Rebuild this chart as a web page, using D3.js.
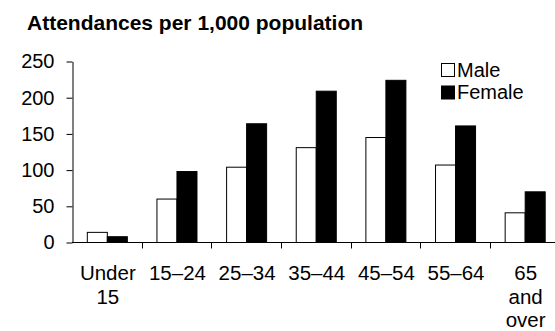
<!DOCTYPE html>
<html>
<head>
<meta charset="utf-8">
<script src="https://cdn.jsdelivr.net/npm/d3@7"></script>
<style>
  html, body { margin: 0; padding: 0; background: #fff; }
  svg { display: block; font-family: "Liberation Sans", Arial, sans-serif; }
</style>
</head>
<body>
<svg id="chart" width="555" height="331"></svg>
<script>
// Attendance rates by age group and sex
const categories = ["Under 15", "15–24", "25–34", "35–44", "45–54", "55–64", "65 and over"];
const categoryLines = [["Under", "15"], ["15–24"], ["25–34"], ["35–44"], ["45–54"], ["55–64"], ["65", "and", "over"]];
const male = [14, 60, 104, 131, 145, 107, 41];
const female = [8, 98, 164, 209, 224, 161, 70];
const yTicks = [0, 50, 100, 150, 200, 250];
const seriesNames = ["Male", "Female"];
const seriesFill = ["#fff", "#000"];

const svg = d3.select("#chart");
const tickFont = 20;
const labelFont = 20.5;

const x = d3.scaleBand().domain(categories).range([72, 559.5]).paddingInner(0).paddingOuter(0);
const xSub = d3.scaleBand().domain(seriesNames).range([0, x.bandwidth()]).paddingInner(0).paddingOuter(0.74);
const y = d3.scaleLinear().domain([0, 250]).range([242, 61]);

// Title
svg.append("text")
  .attr("x", 27).attr("y", 30)
  .attr("font-size", 21).attr("font-weight", "bold")
  .text("Attendances per 1,000 population");

// Bars
const rows = categories.map((c, i) => ({ c, values: [male[i], female[i]] }));
const groups = svg.append("g").selectAll("g").data(rows).join("g")
  .attr("transform", d => `translate(${x(d.c)},0)`);
groups.selectAll("rect").data(d => d.values.map((v, j) => ({ s: seriesNames[j], v, j })))
  .join("rect")
  .attr("x", d => xSub(d.s) + 0.5)
  .attr("y", d => y(d.v) + 0.5)
  .attr("width", xSub.bandwidth())
  .attr("height", d => y(0) - y(d.v))
  .attr("fill", d => seriesFill[d.j])
  .attr("stroke", "#000")
  .attr("stroke-width", 1);

// Y axis
const yAxis = svg.append("g").attr("transform", "translate(72.5,0.5)")
  .call(d3.axisLeft(y).tickValues(yTicks).tickSize(6).tickPadding(12).tickSizeOuter(0));
yAxis.selectAll("text").attr("font-size", tickFont).attr("font-family", "Liberation Sans, Arial, sans-serif").attr("fill", "#000");
yAxis.selectAll("line, path").attr("stroke", "#000");

// X axis with ticks on band boundaries
const xAxisG = svg.append("g").attr("transform", "translate(0,242.5)");
xAxisG.append("line").attr("x1", 72).attr("x2", 559.5).attr("y1", 0).attr("y2", 0).attr("stroke", "#000");
xAxisG.selectAll("line.tick").data(categories.slice(1)).join("line")
  .attr("class", "tick")
  .attr("x1", d => Math.round(x(d)) + 0.5).attr("x2", d => Math.round(x(d)) + 0.5)
  .attr("y1", 0).attr("y2", 6).attr("stroke", "#000");

const labels = svg.append("g").attr("font-size", labelFont).attr("text-anchor", "middle");
labels.selectAll("text").data(categories).join("text")
  .attr("x", d => x(d) + x.bandwidth() / 2)
  .attr("y", 280)
  .each(function (d, i) {
    d3.select(this).selectAll("tspan").data(categoryLines[i]).join("tspan")
      .attr("x", x(d) + x.bandwidth() / 2 + 1)
      .attr("dy", (t, k) => k === 0 ? 0 : 23.5)
      .text(t => t);
  });

// Legend
const legend = svg.append("g").attr("transform", "translate(441,63)");
seriesNames.forEach((s, i) => {
  const g = legend.append("g").attr("transform", `translate(0,${i * 22.5})`);
  g.append("rect").attr("x", 0.5).attr("y", 0.5).attr("width", 13).attr("height", 13)
    .attr("fill", seriesFill[i]).attr("stroke", "#000");
  g.append("text").attr("x", 16).attr("y", 13.5).attr("font-size", 20).text(s);
});
</script>
</body>
</html>
